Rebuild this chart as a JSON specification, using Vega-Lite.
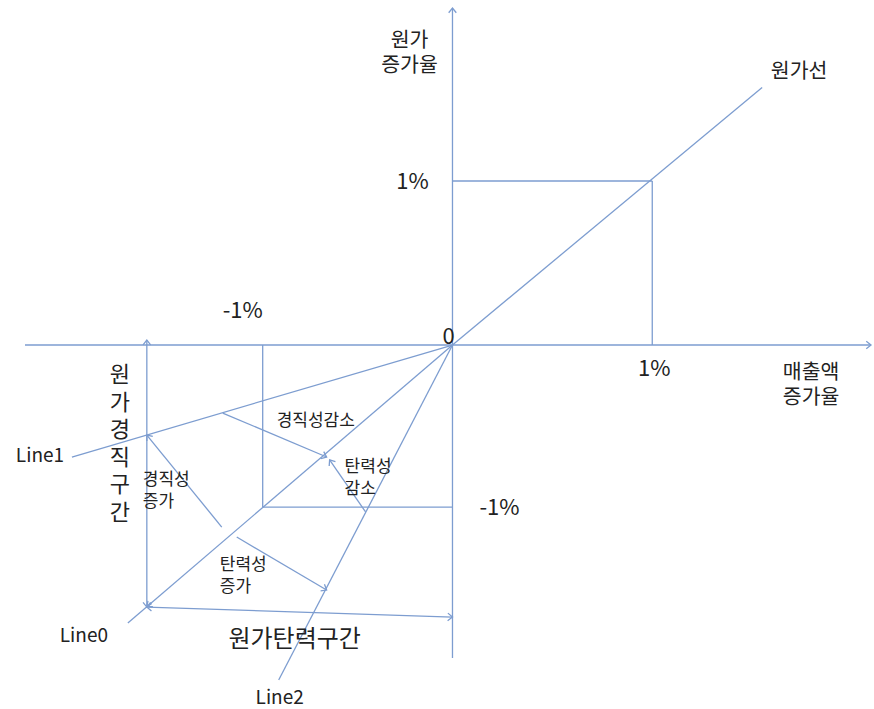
{
  "$schema": "https://vega.github.io/schema/vega-lite/v6.json",
  "width": 874,
  "height": 709,
  "autosize": {"type": "fit", "contains": "padding"},
  "padding": 0,
  "background": "white",
  "config": {"view": {"stroke": null}},
  "datasets": {
    "segments": [
      {"kind": "axis", "x": -2.14, "y": 0, "x2": 2.095, "y2": 0},
      {"kind": "axis", "x": 0, "y": 2.055, "x2": 0, "y2": -1.909},
      {"kind": "guide", "x": 0, "y": 1, "x2": 1, "y2": 1},
      {"kind": "guide", "x": 1, "y": 1, "x2": 1, "y2": 0},
      {"kind": "guide", "x": -0.95, "y": 0, "x2": -0.95, "y2": -0.988},
      {"kind": "guide", "x": -0.95, "y": -0.988, "x2": 0, "y2": -0.988},
      {"kind": "line", "x": 0, "y": 0, "x2": 1.55, "y2": 1.57},
      {"kind": "line", "x": 0, "y": 0, "x2": -1.625, "y2": -1.695},
      {"kind": "line", "x": 0, "y": 0, "x2": -1.905, "y2": -0.683},
      {"kind": "line", "x": 0, "y": 0, "x2": -0.87, "y2": -2.043},
      {"kind": "span", "x": -1.53, "y": 0.03, "x2": -1.53, "y2": -1.598},
      {"kind": "span", "x": -1.53, "y": -1.598, "x2": 0, "y2": -1.659},
      {"kind": "arrow", "x": -1.15, "y": -0.415, "x2": -0.63, "y2": -0.683},
      {"kind": "arrow", "x": -0.435, "y": -1.018, "x2": -0.615, "y2": -0.701},
      {"kind": "arrow", "x": -1.155, "y": -1.11, "x2": -1.53, "y2": -0.549},
      {"kind": "arrow", "x": -1.08, "y": -1.171, "x2": -0.63, "y2": -1.494}
    ],
    "heads": [
      {"x": 0, "y": 2.055, "angle": -90},
      {"x": 2.095, "y": 0, "angle": 0},
      {"x": -1.53, "y": 0.03, "angle": -90},
      {"x": -1.53, "y": -1.598, "angle": 90},
      {"x": -1.53, "y": -1.598, "angle": 181.9},
      {"x": 0, "y": -1.659, "angle": 1.9},
      {"x": -1.53, "y": -1.596, "angle": 139.5},
      {"x": -0.63, "y": -0.683, "angle": 22.9},
      {"x": -0.615, "y": -0.701, "angle": 235.3},
      {"x": -1.53, "y": -0.549, "angle": 230.8},
      {"x": -0.63, "y": -1.494, "angle": 30.5}
    ],
    "labels": [
      {"g": "axis", "label": "원가\n증가율", "x": -0.215, "y": 1.854},
      {"g": "axis", "label": "원가선", "x": 1.735, "y": 1.665},
      {"g": "num", "label": "1%", "x": -0.2, "y": 0.994},
      {"g": "num", "label": "-1%", "x": -1.05, "y": 0.207},
      {"g": "num", "label": "0", "x": -0.02, "y": 0.049},
      {"g": "num", "label": "1%", "x": 1.01, "y": -0.146},
      {"g": "axis", "label": "매출액\n증가율", "x": 1.795, "y": -0.171},
      {"g": "num", "label": "-1%", "x": 0.235, "y": -0.994},
      {"g": "line", "label": "Line1", "x": -2.065, "y": -0.677},
      {"g": "line", "label": "Line0", "x": -1.845, "y": -1.774},
      {"g": "line", "label": "Line2", "x": -0.865, "y": -2.152},
      {"g": "vertical", "label": "원\n가\n경\n직\n구\n간", "x": -1.665, "y": -0.183},
      {"g": "span", "label": "원가탄력구간", "x": -0.79, "y": -1.799},
      {"g": "inner", "label": "경직성감소", "x": -0.88, "y": -0.463},
      {"g": "inner", "label": "탄력성\n감소", "x": -0.54, "y": -0.744},
      {"g": "inner", "label": "경직성\n증가", "x": -1.55, "y": -0.823},
      {"g": "inner", "label": "탄력성\n증가", "x": -1.165, "y": -1.341}
    ]
  },
  "layer": [
    {
      "data": {"name": "segments"},
      "mark": {"type": "rule", "color": "#7d9dd0", "strokeWidth": 1.3},
      "encoding": {
        "x": {"field": "x", "type": "quantitative", "scale": {"domain": [-2.265, 2.105], "nice": false, "zero": false}, "axis": null},
        "y": {"field": "y", "type": "quantitative", "scale": {"domain": [-2.2195, 2.1037], "nice": false, "zero": false}, "axis": null},
        "x2": {"field": "x2"},
        "y2": {"field": "y2"}
      }
    },
    {
      "data": {"name": "heads"},
      "mark": {"type": "point", "shape": "M-1,-0.8L0,0L-1,0.8", "filled": false, "color": "#7d9dd0", "strokeWidth": 1.3, "size": 90, "opacity": 1},
      "encoding": {
        "x": {"field": "x", "type": "quantitative", "scale": {"domain": [-2.265, 2.105], "nice": false, "zero": false}, "axis": null},
        "y": {"field": "y", "type": "quantitative", "scale": {"domain": [-2.2195, 2.1037], "nice": false, "zero": false}, "axis": null},
        "angle": {"field": "angle", "type": "quantitative", "scale": null}
      }
    },
    {
      "data": {"name": "labels"},
      "transform": [{"filter": "datum.g === 'axis'"}],
      "mark": {"type": "text", "font": "Noto Sans CJK KR", "fontSize": 20.5, "color": "#222222", "lineBreak": "\n", "lineHeight": 25, "align": "center", "baseline": "middle"},
      "encoding": {
        "x": {"field": "x", "type": "quantitative", "scale": {"domain": [-2.265, 2.105], "nice": false, "zero": false}, "axis": null},
        "y": {"field": "y", "type": "quantitative", "scale": {"domain": [-2.2195, 2.1037], "nice": false, "zero": false}, "axis": null},
        "text": {"field": "label"}
      }
    },
    {
      "data": {"name": "labels"},
      "transform": [{"filter": "datum.g === 'num'"}],
      "mark": {"type": "text", "font": "Noto Sans CJK KR", "fontSize": 22, "color": "#222222", "align": "center", "baseline": "middle"},
      "encoding": {
        "x": {"field": "x", "type": "quantitative", "scale": {"domain": [-2.265, 2.105], "nice": false, "zero": false}, "axis": null},
        "y": {"field": "y", "type": "quantitative", "scale": {"domain": [-2.2195, 2.1037], "nice": false, "zero": false}, "axis": null},
        "text": {"field": "label"}
      }
    },
    {
      "data": {"name": "labels"},
      "transform": [{"filter": "datum.g === 'line'"}],
      "mark": {"type": "text", "font": "Noto Sans CJK KR", "fontSize": 19, "color": "#222222", "align": "center", "baseline": "middle"},
      "encoding": {
        "x": {"field": "x", "type": "quantitative", "scale": {"domain": [-2.265, 2.105], "nice": false, "zero": false}, "axis": null},
        "y": {"field": "y", "type": "quantitative", "scale": {"domain": [-2.2195, 2.1037], "nice": false, "zero": false}, "axis": null},
        "text": {"field": "label"}
      }
    },
    {
      "data": {"name": "labels"},
      "transform": [{"filter": "datum.g === 'vertical'"}],
      "mark": {"type": "text", "font": "Noto Sans CJK KR", "fontSize": 22, "color": "#222222", "lineBreak": "\n", "lineHeight": 27.5, "align": "center", "baseline": "middle"},
      "encoding": {
        "x": {"field": "x", "type": "quantitative", "scale": {"domain": [-2.265, 2.105], "nice": false, "zero": false}, "axis": null},
        "y": {"field": "y", "type": "quantitative", "scale": {"domain": [-2.2195, 2.1037], "nice": false, "zero": false}, "axis": null},
        "text": {"field": "label"}
      }
    },
    {
      "data": {"name": "labels"},
      "transform": [{"filter": "datum.g === 'span'"}],
      "mark": {"type": "text", "font": "Noto Sans CJK KR", "fontSize": 24, "color": "#222222", "align": "center", "baseline": "middle"},
      "encoding": {
        "x": {"field": "x", "type": "quantitative", "scale": {"domain": [-2.265, 2.105], "nice": false, "zero": false}, "axis": null},
        "y": {"field": "y", "type": "quantitative", "scale": {"domain": [-2.2195, 2.1037], "nice": false, "zero": false}, "axis": null},
        "text": {"field": "label"}
      }
    },
    {
      "data": {"name": "labels"},
      "transform": [{"filter": "datum.g === 'inner'"}],
      "mark": {"type": "text", "font": "Noto Sans CJK KR", "fontSize": 17, "color": "#222222", "lineBreak": "\n", "lineHeight": 22, "align": "left", "baseline": "middle"},
      "encoding": {
        "x": {"field": "x", "type": "quantitative", "scale": {"domain": [-2.265, 2.105], "nice": false, "zero": false}, "axis": null},
        "y": {"field": "y", "type": "quantitative", "scale": {"domain": [-2.2195, 2.1037], "nice": false, "zero": false}, "axis": null},
        "text": {"field": "label"}
      }
    }
  ]
}
